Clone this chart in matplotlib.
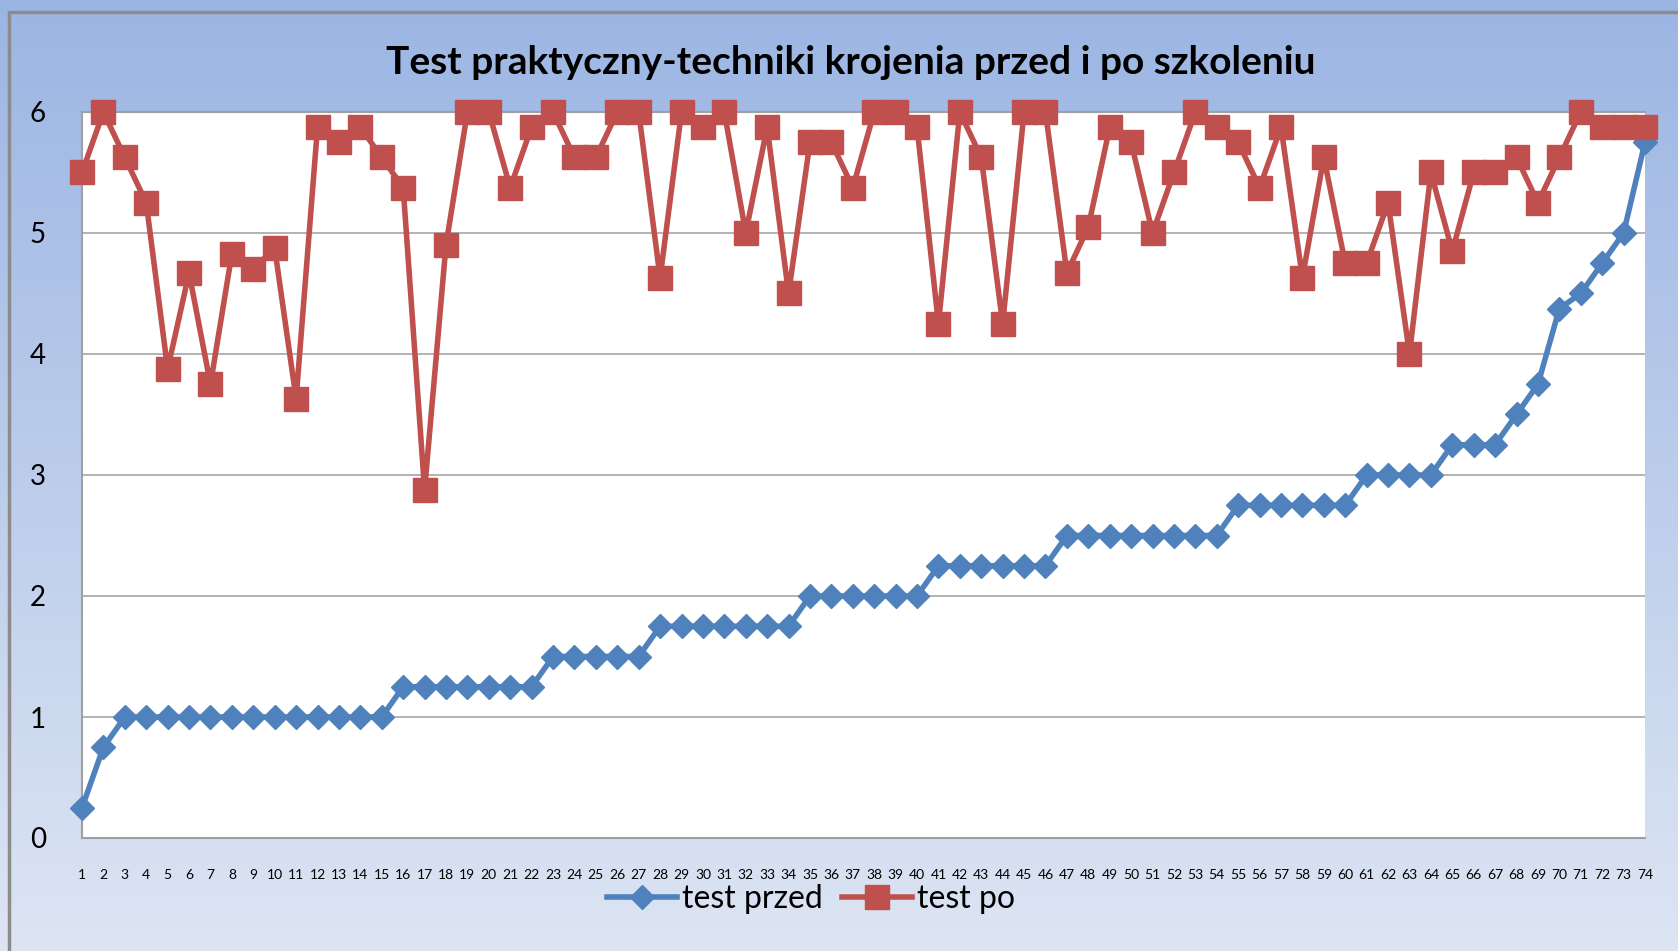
import numpy as np
import matplotlib.pyplot as plt
from matplotlib.patches import Rectangle

plt.rcParams['font.family'] = ['Lato', 'DejaVu Sans']

title = "Test praktyczny-techniki krojenia przed i po szkoleniu"
labels = [str(i) for i in range(1, 75)]

test_przed = [0.25, 0.75] + [1.0] * 13 + [1.25] * 7 + [1.5] * 5 + [1.75] * 7 \
    + [2.0] * 6 + [2.25] * 6 + [2.5] * 8 + [2.75] * 6 + [3.0] * 4 + [3.25] * 3 \
    + [3.5, 3.75, 4.375, 4.5, 4.75, 5.0, 5.75]

test_po = [5.5, 6.0, 5.625, 5.25, 3.875, 4.67, 3.75, 4.83, 4.7, 4.875,
           3.63, 5.875, 5.75, 5.875, 5.625, 5.375, 2.875, 4.9, 6.0, 6.0,
           5.375, 5.875, 6.0, 5.625, 5.625, 6.0, 6.0, 4.63, 6.0, 5.875,
           6.0, 5.0, 5.875, 4.5, 5.75, 5.75, 5.375, 6.0, 6.0, 5.875,
           4.25, 6.0, 5.625, 4.25, 6.0, 6.0, 4.67, 5.05, 5.875, 5.75,
           5.0, 5.5, 6.0, 5.875, 5.75, 5.375, 5.875, 4.63, 5.625, 4.75,
           4.75, 5.25, 4.0, 5.5, 4.85, 5.5, 5.5, 5.625, 5.25, 5.625,
           6.0, 5.875, 5.875, 5.875]

blue = '#4F81BD'
red = '#C0504D'

fig = plt.figure(figsize=(16.78, 9.51), dpi=100)

# gradient background of the chart area
bg = fig.add_axes([0, 0, 1, 1], zorder=-10)
grad = np.linspace(0, 1, 256).reshape(-1, 1)
top_c = np.array([155, 181, 227]) / 255
bot_c = np.array([221, 229, 243]) / 255
img = top_c * (1 - grad[..., None]) + bot_c * grad[..., None]
bg.imshow(img, aspect='auto', extent=[0, 1, 0, 1])
bg.set_xlim(0, 1)
bg.set_ylim(0, 1)
bg.axis('off')
bg.add_patch(Rectangle((8.5 / 1678, -0.1), 1.2, 1 - 11.5 / 951 + 0.1,
                       fill=False, edgecolor='#8C8C8C', lw=2.5))

ax = fig.add_axes([82 / 1678, 1 - 838 / 951, (1645 - 82) / 1678, (838 - 112) / 951])
ax.set_facecolor('white')

x = np.arange(1, 75)
ax.plot(x, test_przed, color=blue, lw=4, marker='D', ms=12,
        label='test przed', clip_on=False, zorder=3)
ax.plot(x, test_po, color=red, lw=4, marker='s', ms=17,
        label='test po', clip_on=False, zorder=4)

ax.set_xlim(1, 74)
ax.set_ylim(0, 6)
ax.set_yticks(range(0, 7))
ax.set_xticks(x)
ax.set_xticklabels(labels, fontsize=10)
ax.tick_params(axis='y', length=0, labelsize=20, pad=26)
ax.tick_params(axis='x', length=0, pad=22)
ax.grid(axis='y', color='#A6A6A6', lw=1.2)
ax.set_axisbelow(True)
for side in ['top', 'left', 'bottom']:
    ax.spines[side].set_color('#A0A0A0')
    ax.spines[side].set_linewidth(1.5)
ax.spines['right'].set_visible(False)

fig.text(851 / 1678, 1 - 63 / 951, title, ha='center', va='center',
         fontsize=28, fontweight='bold')

fig.legend(loc='center', bbox_to_anchor=(811 / 1678, 1 - 899 / 951), ncol=2,
           frameon=False, fontsize=23, handlelength=2.2, handletextpad=0.15,
           columnspacing=0.6)

fig.savefig('out.png', dpi=100)
